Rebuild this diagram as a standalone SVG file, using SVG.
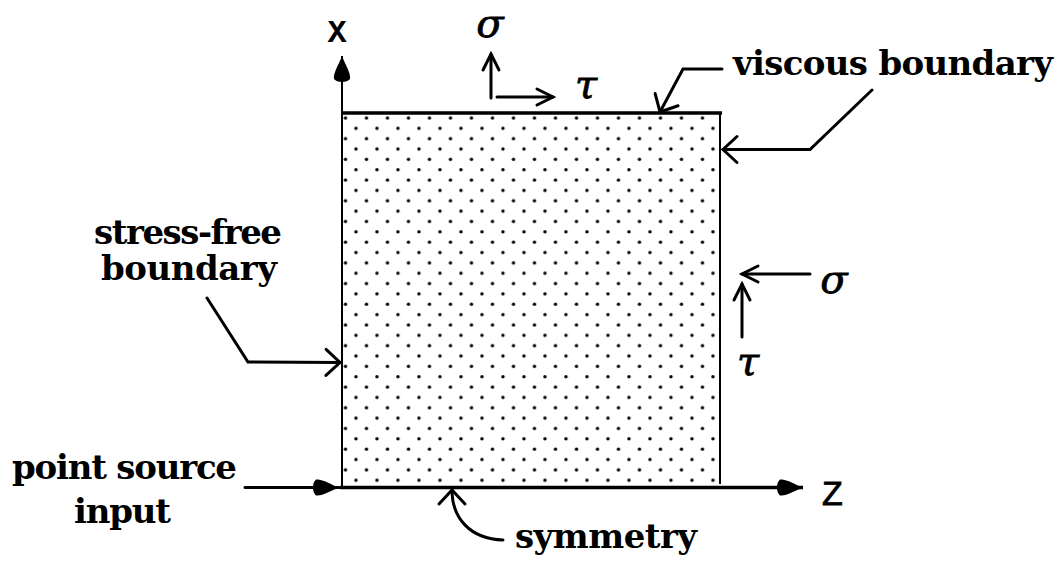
<svg xmlns="http://www.w3.org/2000/svg" width="1062" height="562" viewBox="0 0 1062 562">
<style>
.lbl{font-family:"DejaVu Serif","Liberation Serif",serif;font-weight:bold;font-size:34px;fill:#000}
.greek{font-family:"DejaVu Serif","Liberation Serif",serif;font-style:italic;font-size:40px;fill:#000;stroke:#000;stroke-width:0.8;text-anchor:middle}
.ax{font-family:"Liberation Mono","DejaVu Sans Mono",monospace;font-weight:bold;font-size:32px;fill:#000;text-anchor:middle}
.zl{font-family:"Liberation Sans","DejaVu Sans",sans-serif;font-size:34px;fill:#000;stroke:#000;stroke-width:0.8}
.ln{fill:none;stroke:#000;stroke-width:3;stroke-linejoin:miter;stroke-linecap:round}
.edge{fill:none;stroke:#000;stroke-width:2}
.edgeb{fill:none;stroke:#000;stroke-width:3.5}
</style>
<defs>
<pattern id="dots" patternUnits="userSpaceOnUse" x="340.25" y="112.8" width="21" height="20.7">
<circle cx="5.25" cy="5.2" r="1.7" fill="#000"/>
<circle cx="15.75" cy="15.55" r="1.7" fill="#000"/>
</pattern>
<marker id="open" markerUnits="userSpaceOnUse" viewBox="-20 -12 24 24" refX="0" refY="0" markerWidth="24" markerHeight="24" orient="auto" overflow="visible">
<path d="M-16,-8 L0,0 L-16,8" fill="none" stroke="#000" stroke-width="3" stroke-linecap="round"/>
</marker>
<marker id="openw" markerUnits="userSpaceOnUse" viewBox="-20 -16 24 32" refX="0" refY="0" markerWidth="24" markerHeight="32" orient="auto" overflow="visible">
<path d="M-14,-13 L0,0 L-14,13" fill="none" stroke="#000" stroke-width="3" stroke-linecap="round"/>
</marker>
<marker id="solid" markerUnits="userSpaceOnUse" viewBox="-28 -10 30 20" refX="0" refY="0" markerWidth="30" markerHeight="20" orient="auto" overflow="visible">
<path d="M0,0 C-8,-3 -17,-9 -23,-8 C-27,-5 -27,5 -23,8 C-17,9 -8,3 0,0 Z" fill="#000"/>
</marker>
</defs>
<rect width="1062" height="562" fill="#fff"/>

<g id="domain">
<rect x="342" y="113" width="378" height="374" fill="url(#dots)"/>
<line class="edgeb" x1="342" y1="113" x2="722" y2="113"/>
<line class="edge" x1="720" y1="113" x2="720" y2="484"/>
</g>

<g id="axis-x">
<text class="ax" x="337" y="42">X</text>
</g>
<g id="axis-z">
<text class="zl" x="822" y="505">Z</text>
</g>

<g id="top-stress">
<text class="greek" x="490" y="37">σ</text>
<text class="greek" x="586" y="98">τ</text>
</g>

<g id="right-stress">
<text class="greek" x="834" y="293">σ</text>
<text class="greek" x="748" y="375">τ</text>
</g>

<g id="label-viscous">
<text class="lbl" x="733" y="75" textLength="320">viscous boundary</text>
</g>

<g id="label-stress-free">
<text class="lbl" x="94" y="243.5" textLength="188">stress-free</text>
<text class="lbl" x="101" y="280" textLength="176">boundary</text>
</g>

<g id="label-point-source">
<text class="lbl" x="12" y="478.5" textLength="225">point source</text>
<text class="lbl" x="74" y="523" textLength="97">input</text>
</g>

<g id="label-symmetry">
<text class="lbl" x="515" y="548" textLength="182">symmetry</text>
</g>

<g id="connectors">
<line class="edge" x1="342" y1="487" x2="342" y2="56" marker-end="url(#solid)"/>
<line class="edgeb" x1="340" y1="487.5" x2="803" y2="487.5" marker-end="url(#solid)"/>
<line class="ln" x1="245" y1="487.5" x2="339" y2="487.5" marker-end="url(#solid)"/>
<line class="ln" x1="491" y1="98" x2="491" y2="54" marker-end="url(#open)"/>
<line class="ln" x1="497" y1="97" x2="553" y2="97" marker-end="url(#open)"/>
<line class="ln" x1="810" y1="274" x2="742" y2="274" marker-end="url(#open)"/>
<line class="ln" x1="742" y1="337" x2="742" y2="284" marker-end="url(#open)"/>
<polyline class="ln" points="722,69 683,69 660,112" marker-end="url(#openw)"/>
<polyline class="ln" points="872,90 810,149.5 723,149.5" marker-end="url(#openw)"/>
<polyline class="ln" points="207,298 248,362 340,362.5" marker-end="url(#openw)"/>
<path class="ln" d="M503,540 C470,539 452,518 452,490" marker-end="url(#openw)"/>
</g>
</svg>
